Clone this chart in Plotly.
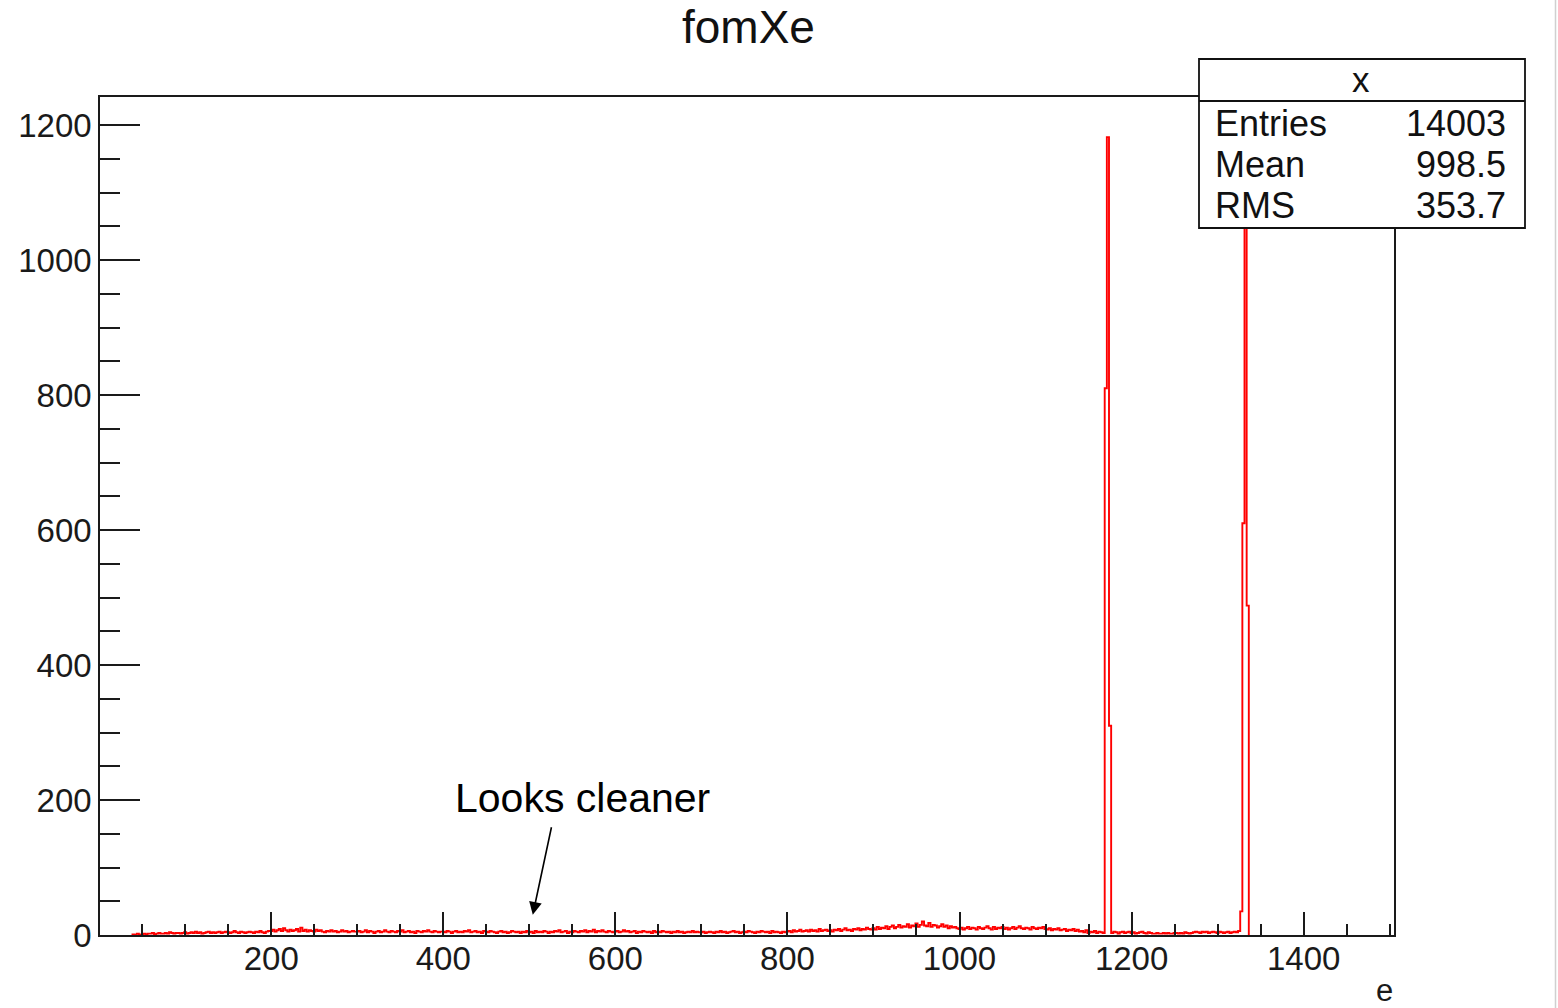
import plotly.graph_objects as go

# ---------------- data ----------------
bin_width = 2.5
first_edge = 38.75

noise_low = [
    1,0,2,0,1,2,1,2,2,3, 1,2,3,2,2,3,2,4,3,2, 3,3,2,3,4,2,3,4,3,5, 3,4,2,3,4,5,3,4,3,4,
    5,3,4,5,4,3,4,6,4,3, 5,4,3,4,5,4,3,5,4,6, 4,3,5,6,6,8,5,7,9,6, 10,7,5,8,6,7,9,5,11,6,
    8,5,7,6,5,8,6,7,5,4, 6,5,7,5,6,4,5,7,5,6, 4,5,6,5,5,6,4,5,7,4, 6,5,3,5,6,4,5,7,5,4,
    6,5,4,6,5,7,4,5,6,4, 5,3,6,5,4,6,5,7,5,4, 6,5,4,5,5,4,6,5,3,5, 6,4,5,4,6,5,7,4,5,6,
    4,5,3,6,5,4,6,5,4,3, 5,6,4,5,3,4,6,5,4,5, 3,5,4,6,4,5,3,6,4,5, 4,6,5,3,5,4,6,5,7,4,
    5,6,3,5,4,6,5,4,6,5, 7,4,6,5,8,4,6,5,7,5, 4,6,5,4,5,6,4,5,7,5, 6,4,5,6,3,5,4,6,5,4,
    5,3,6,4,5,4,6,5,4,5, 3,5,4,6,4,5,3,4,5,4, 6,4,5,4,4,5,3,4,5,4, 3,5,4,6,4,5,3,4,5,6,
]
noise_mid = [
    4,5,3,4,5,4,6,5,4,3, 5,4,6,5,4,5,3,6,4,5, 4,3,5,4,5,6,4,7,5,6, 8,5,6,7,5,8,6,7,5,9,
    6,7,8,6,7,5,8,7,9,6, 8,10,7,8,6,9,8,10,7,9, 8,11,9,8,10,8,12,9,11,10, 13,9,12,14,10,12,15,11,13,12,
    16,11,14,13,17,12,15,20,14,13, 18,12,15,14,11,13,16,12,14,10, 13,11,12,10,9,11,8,10,12,9, 11,10,8,12,10,9,11,13,10,8,
    12,9,11,10,12,9,11,8,10,12, 9,11,13,10,9,11,10,8,12,10, 9,11,10,12,9,8,10,7,9,8, 10,7,8,9,6,8,7,9,6,8,
    5,6,4,7,3,5,4,6,3,5, 4,3,
]
peak_1173 = [810, 1182, 310]
noise_between = [
    3,5,4,2,4,5,3,4,5,3, 4,2,3,4,5,3,2,4,3,2, 2,3,2,2,3,2,3,2,2,3,
    3,2,3,2,4,3,2,3,4,5, 4,3,5,4,5,3,4,5,4,3, 5,4,3,4,5,3,4,5,4,6,
]
peak_1332 = [35, 610, 1150, 488]

stats_labels = ["Entries", "Mean", "RMS"]
stats_values = ["14003", "998.5", "353.7"]

x_range = [1, 1505]
y_range = [0, 1241.5]

# ---------------- build step outline ----------------
counts = noise_low + noise_mid + peak_1173 + noise_between + peak_1332
n = len(counts)
edges = [first_edge + bin_width * i for i in range(n + 1)]
xs = [edges[0]] + edges[:n] + [edges[n], edges[n]]
ys = [0] + counts + [counts[-1], 0]

FONT = "Liberation Sans, Arial, sans-serif"

fig = go.Figure()
fig.add_trace(go.Scatter(
    x=xs, y=ys, mode="lines", line=dict(color="#ff0000", width=1.9, shape="hv"),
    hoverinfo="skip", showlegend=False,
))

W, H = 1558, 1008
L, R, T, B = 100, 1394, 97, 935


def px(xp):
    return (xp - L) / (R - L)


def py(yp):
    return (B - yp) / (B - T)


axis_common = dict(
    showgrid=False, zeroline=False, showline=True, mirror=True,
    linecolor="#1a1a1a", linewidth=1.6, ticks="inside",
    tickcolor="#1a1a1a", tickwidth=1.6,
    tickfont=dict(family=FONT, size=33, color="#1a1a1a"),
)

fig.update_layout(
    width=W, height=H,
    margin=dict(l=L, r=W - R, t=T, b=H - B, pad=0),
    paper_bgcolor="white", plot_bgcolor="white",
    xaxis=dict(range=x_range, tick0=0, dtick=200, ticklen=23,
               ticklabelstandoff=-6,
               minor=dict(dtick=50, tick0=0, ticks="inside", ticklen=11,
                          tickcolor="#1a1a1a", tickwidth=1.6),
               **axis_common),
    yaxis=dict(range=y_range, tick0=0, dtick=200, ticklen=40,
               minor=dict(dtick=50, tick0=0, ticks="inside", ticklen=20,
                          tickcolor="#1a1a1a", tickwidth=1.6),
               **axis_common),
    showlegend=False,
)

# title
fig.add_annotation(text="fomXe", xref="paper", yref="paper", x=px(748), y=py(27),
                   showarrow=False, font=dict(family=FONT, size=46, color="#111"),
                   xanchor="center", yanchor="middle")
# axis title
fig.add_annotation(text="e", xref="paper", yref="paper", x=px(1384), y=py(990),
                   showarrow=False, font=dict(family=FONT, size=31, color="#1a1a1a"),
                   xanchor="center", yanchor="middle")

# stats box
bx0, bx1, by0, by1, bdiv = 1199, 1525, 59, 228, 101
fig.add_shape(type="rect", xref="paper", yref="paper",
              x0=px(bx0), x1=px(bx1), y0=py(by1), y1=py(by0),
              line=dict(color="#111", width=1.8), fillcolor="white", layer="above")
fig.add_shape(type="line", xref="paper", yref="paper",
              x0=px(bx0), x1=px(bx1), y0=py(bdiv), y1=py(bdiv),
              line=dict(color="#111", width=1.8), layer="above")
fig.add_annotation(text="x", xref="paper", yref="paper", x=px(1361), y=py(79),
                   showarrow=False, font=dict(family=FONT, size=35, color="#111"),
                   xanchor="center", yanchor="middle")
row_y = [124, 164, 205]
for lab, val, yy in zip(stats_labels, stats_values, row_y):
    fig.add_annotation(text=lab, xref="paper", yref="paper", x=px(1213), y=py(yy),
                       showarrow=False, font=dict(family=FONT, size=36, color="#111"),
                       xanchor="left", yanchor="middle")
    fig.add_annotation(text=val, xref="paper", yref="paper", x=px(1508), y=py(yy),
                       showarrow=False, font=dict(family=FONT, size=36, color="#111"),
                       xanchor="right", yanchor="middle")

# "Looks cleaner" note with arrow
fig.add_annotation(text="Looks cleaner", xref="paper", yref="paper", x=px(582), y=py(798),
                   showarrow=False, font=dict(family=FONT, size=41, color="#000"),
                   xanchor="center", yanchor="middle")
fig.add_annotation(text="", x=504, y=30, xref="x", yref="y",
                   ax=19, ay=-89, axref="pixel", ayref="pixel",
                   showarrow=True, arrowhead=2, arrowsize=1.6, arrowwidth=1.6,
                   arrowcolor="#000")

# faint window border on the right
fig.add_shape(type="line", xref="paper", yref="paper",
              x0=px(1555.5), x1=px(1555.5), y0=py(0), y1=py(1008),
              line=dict(color="#d0d0d0", width=1.5))

fig.write_html("out.html")
